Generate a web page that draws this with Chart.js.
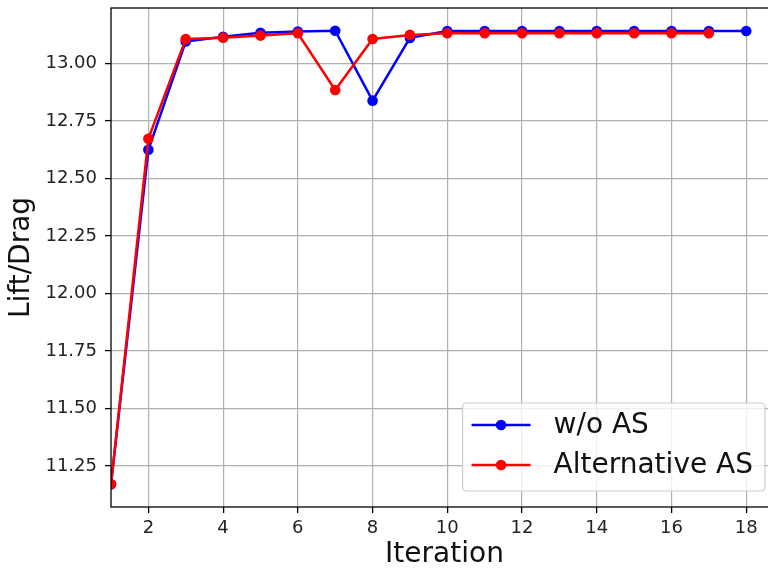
<!DOCTYPE html>
<html>
<head>
<meta charset="utf-8">
<script src="https://cdn.jsdelivr.net/npm/chart.js@4"></script>
<style>
  html, body { margin: 0; padding: 0; background: #fff; overflow: hidden; }
  #wrap { width: 800px; height: 570px; }
</style>
</head>
<body>
<div id="wrap"><canvas id="liftDragChart"></canvas></div>
<script>
// values
const iterations = [1, 2, 3, 4, 5, 6, 7, 8, 9, 10, 11, 12, 13, 14, 15, 16, 17, 18];
const withoutAS = [11.17, 12.625, 13.096, 13.117, 13.134, 13.140, 13.143, 12.839, 13.112,
  13.142, 13.142, 13.142, 13.142, 13.142, 13.142, 13.142, 13.142, 13.142];
const alternativeAS = [11.17, 12.673, 13.107, 13.113, 13.122, 13.132, 12.885, 13.107, 13.125,
  13.132, 13.132, 13.132, 13.132, 13.132, 13.132, 13.132, 13.132];
const xTicks = [2, 4, 6, 8, 10, 12, 14, 16, 18];
const yTicks = [11.25, 11.5, 11.75, 12.0, 12.25, 12.5, 12.75, 13.0];

const toPoints = (ys) => ys.map((y, i) => ({ x: iterations[i], y }));

// box around the plot, like matplotlib spines
const frame = {
  id: 'frame',
  afterDatasetsDraw(chart) {
    const { ctx, chartArea: a } = chart;
    ctx.save();
    ctx.strokeStyle = '#000';
    ctx.lineWidth = 1.3;
    ctx.strokeRect(a.left, a.top, a.right - a.left, a.bottom - a.top);
    ctx.restore();
  }
};

// legend inside the axes, lower right
const insideLegend = {
  id: 'insideLegend',
  afterDraw(chart) {
    const { ctx, chartArea: a } = chart;
    const sets = chart.data.datasets;
    ctx.save();
    ctx.font = '28px "DejaVu Sans"';
    const textW = Math.max(...sets.map(d => ctx.measureText(d.label).width));
    const w = 9 + 59 + 23 + textW + 12;
    const h = 88;
    const x0 = a.right - 13 - w;
    const y0 = a.bottom - 16 - h;
    ctx.beginPath();
    ctx.roundRect(x0, y0, w, h, 4);
    ctx.fillStyle = 'rgba(255,255,255,0.8)';
    ctx.fill();
    ctx.strokeStyle = '#cccccc';
    ctx.lineWidth = 1.2;
    ctx.stroke();
    sets.forEach((d, i) => {
      const cy = y0 + 22 + i * 40;
      ctx.strokeStyle = d.borderColor;
      ctx.lineWidth = 2.5;
      ctx.beginPath();
      ctx.moveTo(x0 + 9, cy);
      ctx.lineTo(x0 + 68, cy);
      ctx.stroke();
      ctx.fillStyle = d.borderColor;
      ctx.beginPath();
      ctx.arc(x0 + 38.5, cy, 5.3, 0, Math.PI * 2);
      ctx.fill();
      ctx.fillStyle = '#111';
      ctx.textBaseline = 'middle';
      ctx.fillText(d.label, x0 + 91, cy + 1);
    });
    ctx.restore();
  }
};

new Chart(document.getElementById('liftDragChart'), {
  type: 'line',
  data: {
    datasets: [
      {
        label: 'w/o AS',
        data: toPoints(withoutAS),
        borderColor: '#0000ff',
        backgroundColor: '#0000ff',
        pointBackgroundColor: '#0000ff',
        borderWidth: 2.5,
        pointRadius: 5.3,
        pointBorderWidth: 0,
        order: 1
      },
      {
        label: 'Alternative AS',
        data: toPoints(alternativeAS),
        borderColor: '#ff0000',
        backgroundColor: '#ff0000',
        pointBackgroundColor: '#ff0000',
        borderWidth: 2.5,
        pointRadius: 5.3,
        pointBorderWidth: 0,
        order: 0
      }
    ]
  },
  options: {
    responsive: true,
    maintainAspectRatio: false,
    animation: false,
    layout: { padding: { left: 0, top: 8, right: 22, bottom: 0 } },
    plugins: {
      legend: { display: false },
      tooltip: { enabled: false }
    },
    scales: {
      x: {
        type: 'linear',
        min: 1,
        max: 18.85,
        afterBuildTicks: (s) => { s.ticks = xTicks.map(v => ({ value: v })); },
        afterFit: (s) => { s.height = 63; s.paddingLeft = 0; s.paddingRight = 0; },
        ticks: {
          color: '#222',
          font: { family: 'DejaVu Sans', size: 18 },
          padding: 5,
          maxRotation: 0
        },
        grid: { color: '#b0b0b0', lineWidth: 1.2, tickLength: 6, tickColor: '#000', tickWidth: 1.3 },
        border: { display: false },
        title: {
          display: true,
          text: 'Iteration',
          color: '#111',
          font: { family: 'DejaVu Sans', size: 28, lineHeight: 1 },
          padding: { top: 0, bottom: 1 }
        }
      },
      y: {
        min: 11.071,
        max: 13.242,
        afterBuildTicks: (s) => { s.ticks = yTicks.map(v => ({ value: v })); },
        afterFit: (s) => { s.width = 111; s.paddingTop = 0; s.paddingBottom = 0; },
        ticks: {
          color: '#222',
          font: { family: 'DejaVu Sans', size: 18 },
          padding: 8,
          callback: (v) => Number(v).toFixed(2)
        },
        grid: { color: '#b0b0b0', lineWidth: 1.2, tickLength: 6, tickColor: '#000', tickWidth: 1.3 },
        border: { display: false },
        title: {
          display: true,
          text: 'Lift/Drag',
          color: '#111',
          font: { family: 'DejaVu Sans', size: 28, lineHeight: 1 },
          padding: { top: 8, bottom: 0 }
        }
      }
    }
  },
  plugins: [frame, insideLegend]
});
</script>
</body>
</html>
